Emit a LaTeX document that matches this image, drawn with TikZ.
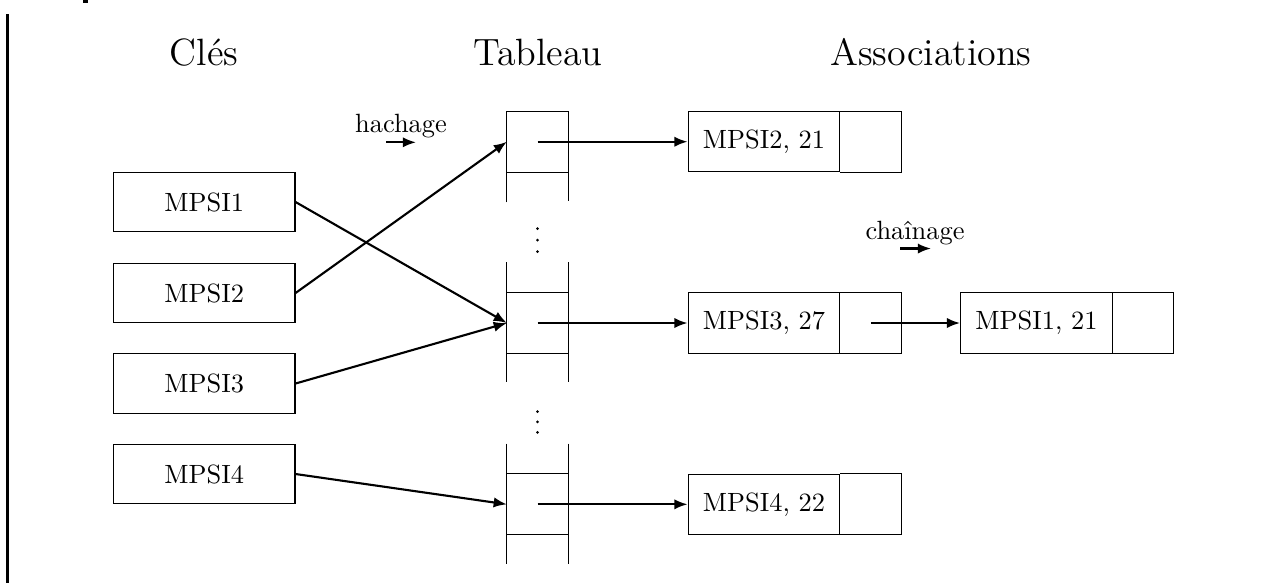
\documentclass[tikz,border=0pt]{standalone}
\usetikzlibrary{arrows.meta}
\begin{document}
\begin{tikzpicture}[x=0.3788pt,y=-0.3788pt,
  keybox/.style={draw,line width=0.4pt,minimum width=68.8pt,minimum height=22.5pt,inner sep=0pt},
  valbox/.style={draw,line width=0.4pt,minimum width=57.5pt,minimum height=22.8pt,inner sep=0pt},
  ptrbox/.style={minimum width=22.7pt,minimum height=22.8pt,inner sep=0pt,anchor=west},
  cell/.style={minimum width=22.8pt,minimum height=22.8pt,inner sep=0pt},
  title/.style={font=\Large,anchor=base},
  lbl/.style={anchor=base,inner sep=0pt},
  conn/.style={line width=0.8pt,-{Latex[length=5pt,width=3.9pt]}},
  tab/.style={line width=0.4pt}]
\useasboundingbox (0,0) rectangle (1275,583);
% page artefacts
\draw[line width=0.8pt] (7.5,14) -- (7.5,583);
\fill (83,0) rectangle (88,2.5);
% titles
\node[title] (tcle) at (204,65) {Clés};
\node[title] (ttab) at (538,65) {Tableau};
\node[title] (tass) at (931,65) {Associations};
% keys
\node[keybox] (k1) at (204.2,202) {MPSI1};
\node[keybox] (k2) at (204.2,293) {MPSI2};
\node[keybox] (k3) at (204.2,383.5) {MPSI3};
\node[keybox] (k4) at (204.2,474) {MPSI4};
% table cells
\node[cell] (t1) at (537.5,141.7) {};
\node[cell] (t2) at (537.5,323) {};
\node[cell] (t3) at (537.5,504.3) {};
% table drawing
\draw[tab] (t1.south west) ++(0,30) -- (t1.north west) -- (t1.north east) -- ++(0,90);
\draw[tab] (t1.south west) -- (t1.south east);
\foreach \t in {t2,t3}{
  \draw[tab] (\t.north west) ++(0,-30) -- ++(0,120);
  \draw[tab] (\t.north east) ++(0,-30) -- ++(0,120);
  \draw[tab] (\t.north west) -- (\t.north east);
  \draw[tab] (\t.south west) -- (\t.south east);
}
% dots
\foreach \y in {228.5,240,251.5,411.7,421.9,432.3}
  \fill (537.5,\y) circle (1.5);
% associations
\node[valbox] (a1) at (764,141.7) {MPSI2, 21};
\node[ptrbox] (p1) at (a1.east) {};
\node[valbox] (a2) at (764,323) {MPSI3, 27};
\node[ptrbox] (p2) at (a2.east) {};
\node[valbox] (a3) at (764,504.3) {MPSI4, 22};
\node[ptrbox] (p3) at (a3.east) {};
\node[valbox] (a4) at (1036.5,323) {MPSI1, 21};
\node[ptrbox] (p4) at (a4.east) {};
\foreach \p in {p1,p2,p3,p4}
  \draw[tab] (\p.north west) -- (\p.north east) -- (\p.south east) -- (\p.south west);
% labels
\node[lbl] (lh) at (401,132.5) {hachage};
\coordinate (h0) at (386,142.3);
\coordinate (h1) at (416,142.3);
\draw[conn] (h0) -- (h1);
\node[lbl] (lc) at (915,239) {chaînage};
\coordinate (c0) at (900,248.5);
\coordinate (c1) at (931,248.5);
\draw[conn] (c0) -- (c1);
% hashing arrows
\draw[conn] (k1.east) -- (t2.west);
\draw[conn] (k2.east) -- (t1.west);
\draw[conn] (k3.east) -- (t2.west);
\draw[conn] (k4.east) -- (t3.west);
% pointer arrows
\draw[conn] (t1.center) -- (a1.west);
\draw[conn] (t2.center) -- (a2.west);
\draw[conn] (t3.center) -- (a3.west);
\draw[conn] (p2.center) -- (a4.west);
\end{tikzpicture}
\end{document}
